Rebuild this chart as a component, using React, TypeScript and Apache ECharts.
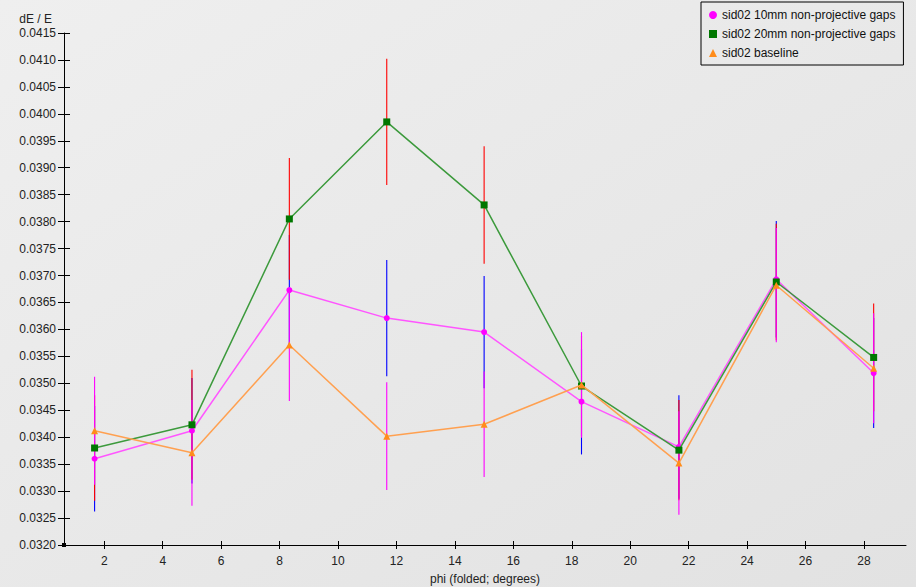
import React, { useEffect, useRef } from "react";
import * as echarts from "echarts";

// phi bin centres (folded, degrees)
const phi = [1.667, 5.0, 8.333, 11.667, 15.0, 18.333, 21.667, 25.0, 28.333];

// dE/E for each configuration, with its uncertainty
const gap10 = [0.0336, 0.03412, 0.03673, 0.03621, 0.03595, 0.03466, 0.03382, 0.03693, 0.03519];
const gap10Err = [0.00098, 0.00098, 0.00102, 0.00108, 0.00104, 0.00098, 0.00096, 0.00108, 0.00102];

const gap20 = [0.0338, 0.03423, 0.03805, 0.03985, 0.03831, 0.03495, 0.03376, 0.03688, 0.03548];
const gap20Err = [0.00098, 0.00102, 0.00113, 0.00117, 0.00109, 0.00093, 0.00093, 0.00108, 0.001];

const baseline = [0.03412, 0.03371, 0.03571, 0.03402, 0.03424, 0.03497, 0.03352, 0.03682, 0.03528];
const baselineErr = [0.001, 0.00098, 0.00104, 0.001, 0.00098, 0.00098, 0.00096, 0.00106, 0.00102];

const xTicks = [2, 4, 6, 8, 10, 12, 14, 16, 18, 20, 22, 24, 26, 28];

const NAME_10 = "sid02 10mm non-projective gaps";
const NAME_20 = "sid02 20mm non-projective gaps";
const NAME_BASE = "sid02 baseline";

const FONT = "'Liberation Sans', Arial, sans-serif";

function pairs(xs: number[], ys: number[]) {
  return xs.map((x, i) => [x, ys[i]]);
}

function errorSeries(name: string, ys: number[], errs: number[], color: string, z: number) {
  return {
    type: "custom",
    name,
    xAxisIndex: 0,
    yAxisIndex: 0,
    z,
    silent: true,
    data: phi.map((x, i) => [x, ys[i] - errs[i], ys[i] + errs[i]]),
    renderItem: (_params: any, api: any) => {
      const lo = api.coord([api.value(0), api.value(1)]);
      const hi = api.coord([api.value(0), api.value(2)]);
      return {
        type: "line",
        shape: { x1: lo[0], y1: lo[1], x2: hi[0], y2: hi[1] },
        style: { stroke: color, lineWidth: 1.1 },
      };
    },
  };
}

function lineSeries(name: string, ys: number[], line: string, marker: string, symbol: string, size: number, z: number) {
  return {
    type: "line",
    name,
    xAxisIndex: 0,
    yAxisIndex: 0,
    z,
    data: pairs(phi, ys),
    symbol,
    symbolSize: size,
    showAllSymbol: true,
    lineStyle: { color: line, width: 1.5 },
    itemStyle: { color: marker },
  };
}

export default function App() {
  const ref = useRef<HTMLDivElement>(null);

  useEffect(() => {
    if (!ref.current) return;
    const chart = echarts.init(ref.current, undefined, { renderer: "svg" });

    const axisText = { color: "#222", fontSize: 12, fontFamily: FONT };

    chart.setOption({
      animation: false,
      backgroundColor: {
        type: "linear",
        x: 0,
        y: 0,
        x2: 1,
        y2: 1,
        colorStops: [
          { offset: 0, color: "#efefef" },
          { offset: 1, color: "#e2e2e2" },
        ],
      },
      textStyle: { fontFamily: FONT },
      grid: {
        left: 64,
        top: 33,
        right: 10,
        bottom: 42,
        containLabel: false,
        outerBoundsMode: "none",
      },
      legend: {
        left: 701,
        top: 2,
        orient: "vertical",
        padding: [6, 8, 5, 8],
        borderColor: "#000",
        borderWidth: 1,
        itemGap: 5,
        itemWidth: 8,
        itemHeight: 8,
        textStyle: { color: "#111", fontSize: 12, fontFamily: FONT, lineHeight: 14 },
        data: [
          { name: NAME_10, icon: "circle" },
          { name: NAME_20, icon: "rect" },
          { name: NAME_BASE, icon: "triangle" },
        ],
      },
      xAxis: [
        {
          type: "value",
          min: 0.62,
          max: 29.44,
          name: "phi (folded; degrees)",
          nameLocation: "middle",
          nameGap: 28,
          nameTextStyle: axisText,
          axisLine: { show: true, lineStyle: { color: "#000", width: 1 } },
          axisTick: { show: true, length: 4, customValues: xTicks, lineStyle: { color: "#000" } },
          axisLabel: { ...axisText, margin: 10, customValues: xTicks },
          splitLine: { show: false },
        },
        {
          type: "value",
          min: 0.62,
          max: 29.44,
          position: "bottom",
          offset: 0,
          axisLine: { show: false },
          axisTick: { show: true, inside: true, length: 4, customValues: xTicks, lineStyle: { color: "#000" } },
          axisLabel: { show: false },
          splitLine: { show: false },
        },
      ],
      yAxis: [
        {
          type: "value",
          min: 0.032,
          max: 0.0415,
          interval: 0.0005,
          name: "dE / E",
          nameLocation: "end",
          nameGap: 8,
          nameTextStyle: { ...axisText, align: "right", padding: [0, 12, 0, 0] },
          axisLine: {
            show: true,
            symbol: ["rect", "none"],
            symbolSize: [4, 4],
            lineStyle: { color: "#000", width: 1 },
          },
          axisTick: { show: true, length: 6, lineStyle: { color: "#000" } },
          axisLabel: { ...axisText, margin: 8, formatter: (v: number) => v.toFixed(4) },
          splitLine: { show: false },
        },
        {
          type: "value",
          min: 0.032,
          max: 0.0415,
          interval: 0.0005,
          position: "left",
          offset: 0,
          axisLine: { show: false },
          axisTick: { show: true, inside: true, length: 6, lineStyle: { color: "#000" } },
          axisLabel: { show: false },
          splitLine: { show: false },
        },
      ],
      series: [
        errorSeries("10mm uncertainty", gap10, gap10Err, "#0000ff", 1),
        errorSeries("20mm uncertainty", gap20, gap20Err, "#ff0000", 2),
        errorSeries("baseline uncertainty", baseline, baselineErr, "#ff00ff", 3),
        lineSeries(NAME_10, gap10, "#ff55ff", "#ff00ff", "circle", 6, 4),
        lineSeries(NAME_20, gap20, "#3c9a3c", "#007700", "rect", 7, 5),
        lineSeries(NAME_BASE, baseline, "#ffa050", "#ff8c1a", "triangle", 7, 6),
      ],
    });

    return () => chart.dispose();
  }, []);

  return (
    <div
      ref={ref}
      style={{ position: "fixed", left: 0, top: 0, width: 916, height: 587 }}
    />
  );
}
